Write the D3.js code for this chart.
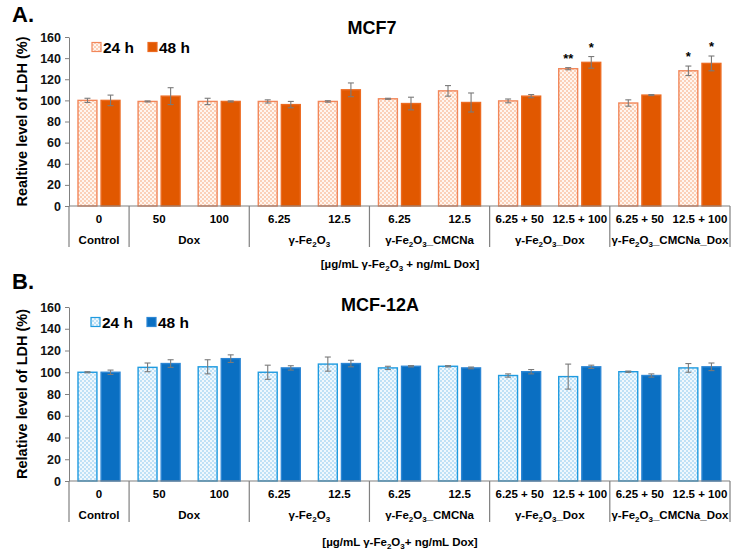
<!DOCTYPE html>
<html><head><meta charset="utf-8">
<script src="https://cdn.jsdelivr.net/npm/d3@7"></script>
<style>body{margin:0;background:#fff}svg{display:block;font-family:"Liberation Sans",Arial,sans-serif}</style>
</head><body><svg id="c" width="742" height="559"></svg>
<script>
const doses = ["0","50","100","6.25","12.5","6.25","12.5","6.25 + 50","12.5 + 100","6.25 + 50","12.5 + 100"];
const groupNames = ["Control","Dox","γ-Fe2O3","γ-Fe2O3_CMCNa","γ-Fe2O3_Dox","γ-Fe2O3_CMCNa_Dox"];
const groupSpans = [[0,1],[1,3],[3,5],[5,7],[7,9],[9,11]];
const series = ["24 h","48 h"];
const yTicks = [0,20,40,60,80,100,120,140,160];

// MCF7
const mcf7_24 = [100,99,99,99,99,101.5,109,99.5,130,97.5,128];
const mcf7_24err = [2,0.5,3,1.5,0.7,0.5,5,1.8,1,3,4.5];
const mcf7_48 = [100,104,99,96,110,97,98,104,136,105,135];
const mcf7_48err = [5,8,0.5,3,6.5,6,9,1.5,5.5,0.5,7];
const mcf7_stars = [{i:8,s:0,t:"**"},{i:8,s:1,t:"*"},{i:10,s:0,t:"*"},{i:10,s:1,t:"*"}];

// MCF-12A
const mcf12_24 = [100,104.5,105,100,107.5,104,105.5,97,96,100.5,104];
const mcf12_24err = [0.5,4,6.5,6.5,6.5,1.5,0.6,1.5,11.5,0.6,4];
const mcf12_48 = [100,108,112.5,104,108,105.5,104,100.5,105,97,105];
const mcf12_48err = [2,3.5,3.5,2,3,0.6,0.8,2,1.5,1.5,3.5];

const svg = d3.select("#c");
const defs = svg.append("defs");
function checker(id, bg, fg){
  const p = defs.append("pattern").attr("id",id).attr("width",4).attr("height",4).attr("patternUnits","userSpaceOnUse");
  p.append("rect").attr("width",4).attr("height",4).attr("fill",bg);
  p.append("rect").attr("width",2).attr("height",2).attr("fill",fg);
  p.append("rect").attr("x",2).attr("y",2).attr("width",2).attr("height",2).attr("fill",fg);
}
checker("patO","#fff6f0","#fbd0b8");
checker("patB","#f0f8fd","#bfe1f6");

// text with Fe2O3 subscripts
function chemText(sel, str){
  const parts = str.split(/(Fe2O3)/).filter(p=>p.length);
  let shift = 0;
  parts.forEach(p=>{
    if(p==="Fe2O3"){
      sel.append("tspan").text("Fe").attr("dy",-shift); shift=0;
      sel.append("tspan").text("2").attr("font-size","8px").attr("dy",3);
      sel.append("tspan").text("O").attr("dy",-3);
      sel.append("tspan").text("3").attr("font-size","8px").attr("dy",3);
      shift = 3;
    } else {
      sel.append("tspan").text(p).attr("dy",-shift); shift=0;
    }
  });
}

function panel(cfg){
  const g = svg.append("g");
  const x = d3.scaleBand().domain(doses.map((d,i)=>i)).range([69,730]).padding(0);
  const xs = d3.scaleBand().domain(series).range([9,51]).paddingInner(0.18).paddingOuter(0);
  const y = d3.scaleLinear().domain([0,160]).range([cfg.y0,cfg.y160]);

  g.append("text").attr("x",12).attr("y",cfg.letterY).attr("font-size","22px").attr("font-weight","bold").text(cfg.letter);
  g.append("text").attr("x",cfg.titleX).attr("y",cfg.titleY).attr("text-anchor","middle").attr("font-size","18px").attr("font-weight","bold").text(cfg.title);

  const ya = g.append("g").attr("transform","translate(69,0)")
    .call(d3.axisLeft(y).tickValues(yTicks).tickSize(4).tickSizeOuter(0));
  ya.select(".domain").attr("stroke","#808080");
  ya.selectAll(".tick line").attr("stroke","#808080");
  ya.selectAll(".tick text").attr("font-size","12.5px").attr("font-weight","bold").attr("fill","#111").attr("font-family","Liberation Sans, Arial, sans-serif").attr("x",-8);

  g.append("text").attr("transform",`translate(${cfg.ylabX},${(cfg.y0+cfg.y160)/2}) rotate(-90)`)
    .attr("text-anchor","middle").attr("font-size","14.5px").attr("font-weight","bold").text(cfg.ylabel);

  const v = [cfg.v24, cfg.v48], e=[cfg.e24, cfg.e48];
  series.forEach((s,si)=>{
    g.append("g").selectAll("rect").data(v[si]).join("rect")
      .attr("x",(d,i)=>x(i)+xs(s)).attr("width",xs.bandwidth())
      .attr("y",d=>y(d)).attr("height",d=>y(0)-y(d))
      .attr("fill",si===0?cfg.pat:cfg.solid)
      .attr("stroke",si===0?cfg.edge24:cfg.edge48).attr("stroke-width",1.4);
  });
  series.forEach((s,si)=>{
    const eg = g.append("g").attr("stroke","#7a7a7a").attr("stroke-width",1.1);
    v[si].forEach((d,i)=>{
      const cx = x(i)+xs(s)+xs.bandwidth()/2;
      const t=y(d+e[si][i]), b=y(d-e[si][i]);
      eg.append("line").attr("x1",cx).attr("x2",cx).attr("y1",t).attr("y2",b);
      eg.append("line").attr("x1",cx-3).attr("x2",cx+3).attr("y1",t).attr("y2",t);
      eg.append("line").attr("x1",cx-3).attr("x2",cx+3).attr("y1",b).attr("y2",b);
    });
  });
  (cfg.stars||[]).forEach(st=>{
    const vv=v[st.s][st.i]+e[st.s][st.i];
    g.append("text").attr("x",x(st.i)+xs(series[st.s])+xs.bandwidth()/2).attr("y",y(vv)-5)
      .attr("text-anchor","middle").attr("font-size","13px").attr("font-weight","bold").text(st.t);
  });

  g.append("line").attr("x1",69).attr("x2",730).attr("y1",y(0)).attr("y2",y(0)).attr("stroke","#808080").attr("stroke-width",1.2);
  const seps = [0,1,3,5,7,9,11];
  seps.forEach(k=>{
    const sx = k<11? x(k) : x(10)+x.bandwidth();
    g.append("line").attr("x1",sx).attr("x2",sx).attr("y1",y(0)).attr("y2",y(0)+41).attr("stroke","#808080").attr("stroke-width",1.2);
  });
  doses.forEach((d,i)=>{
    g.append("text").attr("x",x(i)+x.bandwidth()/2).attr("y",y(0)+17).attr("text-anchor","middle")
      .attr("font-size","11.5px").attr("font-weight","bold").text(d);
  });
  groupNames.forEach((n,gi)=>{
    const [a,b]=groupSpans[gi];
    const cx=(x(a)+x(b-1)+x.bandwidth())/2;
    const t=g.append("text").attr("x",cx).attr("y",y(0)+38).attr("text-anchor","middle")
      .attr("font-size","11.5px").attr("font-weight","bold");
    chemText(t,n);
  });
  const xt=g.append("text").attr("x",400).attr("y",cfg.xtitleY).attr("text-anchor","middle").attr("font-size","11.5px").attr("font-weight","bold");
  chemText(xt, cfg.xtitle);

  const lg = g.append("g");
  series.forEach((s,si)=>{
    const lx = si===0?cfg.legX:cfg.legX+56;
    lg.append("rect").attr("x",lx).attr("y",cfg.legY-4.5).attr("width",9).attr("height",9)
      .attr("fill",si===0?cfg.pat:cfg.solid).attr("stroke",si===0?cfg.edge24:cfg.edge48).attr("stroke-width",1.2);
    lg.append("text").attr("x",lx+11).attr("y",cfg.legY+5.5).attr("font-size","15.5px").attr("font-weight","bold").text(s);
  });
}

panel({letter:"A.",letterY:22,title:"MCF7",titleX:372,titleY:34,y0:206,y160:37,ylabX:27,
  ylabel:"Realtive level of LDH (%)",v24:mcf7_24,e24:mcf7_24err,v48:mcf7_48,e48:mcf7_48err,stars:mcf7_stars,
  pat:"url(#patO)",solid:"#e15800",edge24:"#f2875a",edge48:"#ec6a20",xtitleY:268,xtitle:"[µg/mL γ-Fe2O3 + ng/mL Dox]",legX:92,legY:47});
panel({letter:"B.",letterY:289,title:"MCF-12A",titleX:380,titleY:311,y0:481,y160:307,ylabX:27,
  ylabel:"Relative level of LDH (%)",v24:mcf12_24,e24:mcf12_24err,v48:mcf12_48,e48:mcf12_48err,stars:[],
  pat:"url(#patB)",solid:"#0a6fc2",edge24:"#1f9be0",edge48:"#2c86d4",xtitleY:546,xtitle:"[µg/mL γ-Fe2O3+ ng/mL Dox]",legX:91,legY:322});
</script></body></html>
